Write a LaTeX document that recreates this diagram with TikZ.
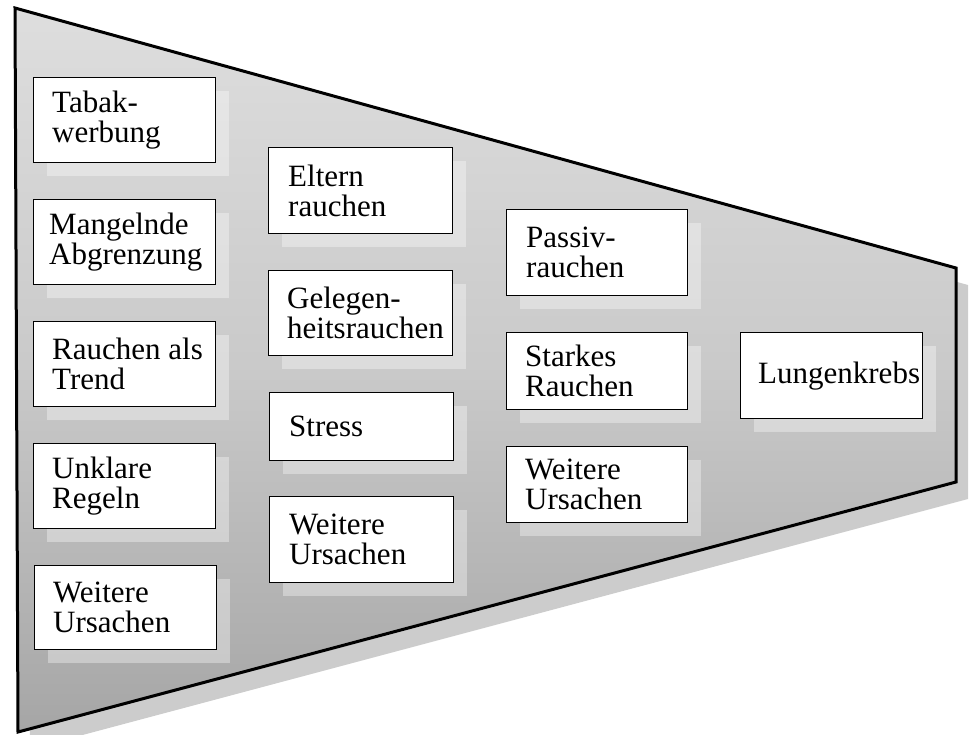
\documentclass[tikz,border=0pt]{standalone}
\usepackage{fontspec}
\setmainfont{Liberation Serif}
\usetikzlibrary{shadows}
\begin{document}
\begin{tikzpicture}[x=1pt,y=-1pt,
  boxnode/.style={draw=black, line width=1.4pt, fill=white, minimum width=182pt,
    minimum height=85pt, inner sep=0pt, anchor=north west,
    general shadow={fill=white, opacity=0.35, shadow xshift=13pt, shadow yshift=-13pt}},
  lbl/.style={anchor=west, align=left, inner sep=0pt, font=\fontsize{31}{30}\selectfont},
  funnel/.style={line width=3pt, line join=miter}]
\useasboundingbox (0,0) rectangle (971,734);
\clip (0,0) rectangle (971,734);
% funnel shadow
\fill[gray!40] (27,25) -- (968,285) -- (968,499) -- (30,749) -- cycle;
% funnel
\shade[top color=gray!26, bottom color=gray!70, middle color=gray!42]
  (15,8) -- (956,268) -- (956,482) -- (18,732) -- cycle;
\coordinate (f1) at (15,8);
\coordinate (f2) at (956,268);
\coordinate (f3) at (956,482);
\coordinate (f4) at (18,732);
\draw[funnel] (f1) -- (f2) -- (f3) -- (f4) -- cycle;
% column 1
\node[boxnode, minimum height=85pt] (b1) at (33,77) {};
\node[lbl] (t1) at ([xshift=19pt]b1.west) {Tabak-\\werbung};
\node[boxnode, minimum height=85pt] (b2) at (33,199) {};
\node[lbl] (t2) at ([xshift=16pt]b2.west) {Mangelnde\\Abgrenzung};
\node[boxnode, minimum height=85pt] (b3) at (33,321) {};
\node[lbl] (t3) at ([xshift=19pt]b3.west) {Rauchen als\\Trend};
\node[boxnode, minimum height=85pt] (b4) at (33,443) {};
\node[lbl] (t4) at ([xshift=19pt]b4.west) {Unklare\\Regeln};
\node[boxnode, minimum height=84pt] (b5) at (34,565) {};
\node[lbl] (t5) at ([xshift=19pt]b5.west) {Weitere\\Ursachen};
% column 2
\node[boxnode, minimum height=86pt, minimum width=184pt] (c1) at (268,147) {};
\node[lbl] (u1) at ([xshift=20pt]c1.west) {Eltern\\rauchen};
\node[boxnode, minimum height=85pt, minimum width=184pt] (c2) at (268,270) {};
\node[lbl] (u2) at ([xshift=19pt]c2.west) {Gelegen-\\heitsrauchen};
\node[boxnode, minimum height=68pt, minimum width=184pt] (c3) at (269,392) {};
\node[lbl] (u3) at ([xshift=20pt]c3.west) {Stress};
\node[boxnode, minimum height=86pt, minimum width=184pt] (c4) at (269,496) {};
\node[lbl] (u4) at ([xshift=20pt]c4.west) {Weitere\\Ursachen};
% column 3
\node[boxnode, minimum height=86pt, minimum width=181pt] (d1) at (506,209) {};
\node[lbl] (v1) at ([xshift=20pt]d1.west) {Passiv-\\rauchen};
\node[boxnode, minimum height=77pt, minimum width=181pt] (d2) at (506,332) {};
\node[lbl] (v2) at ([xshift=19pt]d2.west) {Starkes\\Rauchen};
\node[boxnode, minimum height=76pt, minimum width=181pt] (d3) at (506,446) {};
\node[lbl] (v3) at ([xshift=19pt]d3.west) {Weitere\\Ursachen};
% result
\node[boxnode, minimum height=86pt, minimum width=182pt] (e1) at (740,332) {};
\node[lbl] (w1) at ([xshift=18pt]e1.west) {Lungenkrebs};
\end{tikzpicture}
\end{document}
